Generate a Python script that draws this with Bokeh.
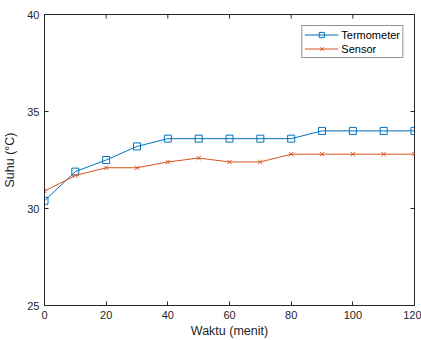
import math
from bokeh.plotting import figure
from bokeh.models import Range1d, FixedTicker, Legend, LegendItem
from bokeh.embed import file_html
from bokeh.resources import INLINE

waktu = [0, 10, 20, 30, 40, 50, 60, 70, 80, 90, 100, 110, 120]
termometer = [30.4, 31.9, 32.5, 33.2, 33.6, 33.6, 33.6, 33.6, 33.6, 34.0, 34.0, 34.0, 34.0]
sensor = [30.9, 31.7, 32.1, 32.1, 32.4, 32.6, 32.4, 32.4, 32.8, 32.8, 32.8, 32.8, 32.8]
x_ticks = [0, 20, 40, 60, 80, 100, 120]
y_ticks = [25, 30, 35, 40]
x_min, x_max = 0, 120
y_min, y_max = 25, 40

BLUE = "#0072BD"
ORANGE = "#D95319"
AX = "#262626"
FONT = "Liberation Sans"

p = figure(width=421, height=340, output_backend="svg", toolbar_location=None,
           x_range=Range1d(x_min, x_max), y_range=Range1d(y_min, y_max),
           min_border_left=44, min_border_right=7, min_border_top=14, min_border_bottom=35)
p.background_fill_color = "white"
p.border_fill_color = "white"
p.outline_line_color = AX
p.outline_line_width = 1
p.xgrid.visible = False
p.ygrid.visible = False

def style(ax, ticks):
    ax.ticker = FixedTicker(ticks=ticks)
    ax.axis_line_color = AX
    ax.major_tick_line_color = AX
    ax.major_tick_in = 4
    ax.major_tick_out = 0
    ax.minor_tick_line_color = None
    ax.major_label_text_font = FONT
    ax.major_label_text_color = AX
    ax.major_label_text_font_size = "11px"
    ax.major_label_standoff = 5
    ax.axis_label_text_font = FONT
    ax.axis_label_text_color = AX
    ax.axis_label_text_font_style = "normal"
    ax.axis_label_text_font_size = "12.5px"

style(p.xaxis[0], x_ticks)
style(p.yaxis[0], y_ticks)
p.xaxis[0].axis_label = "Waktu (menit)"
p.xaxis[0].axis_label_standoff = 2
p.yaxis[0].axis_label = "Suhu (°C)"
p.yaxis[0].axis_label_standoff = 7

# box ticks on the top and right edges (MATLAB "box on")
p.scatter(x_ticks, [y_max] * len(x_ticks), marker="dash", angle=math.pi / 2,
          size=8, line_color=AX, line_width=1)
p.scatter([x_max] * len(y_ticks), y_ticks, marker="dash",
          size=8, line_color=AX, line_width=1)

l1 = p.line(waktu, termometer, line_color=BLUE, line_width=1)
m1 = p.scatter(waktu, termometer, marker="square", size=7, line_color=BLUE,
               fill_color=None, line_width=1)
l2 = p.line(waktu, sensor, line_color=ORANGE, line_width=1)
m2 = p.scatter(waktu, sensor, marker="x", size=6, line_color=ORANGE, line_width=1)

legend = Legend(items=[LegendItem(label="Termometer", renderers=[l1, m1]),
                       LegendItem(label="Sensor", renderers=[l2, m2])],
                location="top_right")
legend.margin = 11
legend.padding = 2
legend.spacing = 1
legend.glyph_width = 34
legend.glyph_height = 13
legend.label_height = 13
legend.label_standoff = 3
legend.label_text_font = FONT
legend.label_text_font_size = "11px"
legend.label_text_color = "black"
legend.border_line_color = AX
legend.border_line_width = 1
legend.background_fill_color = "white"
legend.background_fill_alpha = 1
p.add_layout(legend, "center")

open("out.html", "w").write(file_html(p, INLINE))
